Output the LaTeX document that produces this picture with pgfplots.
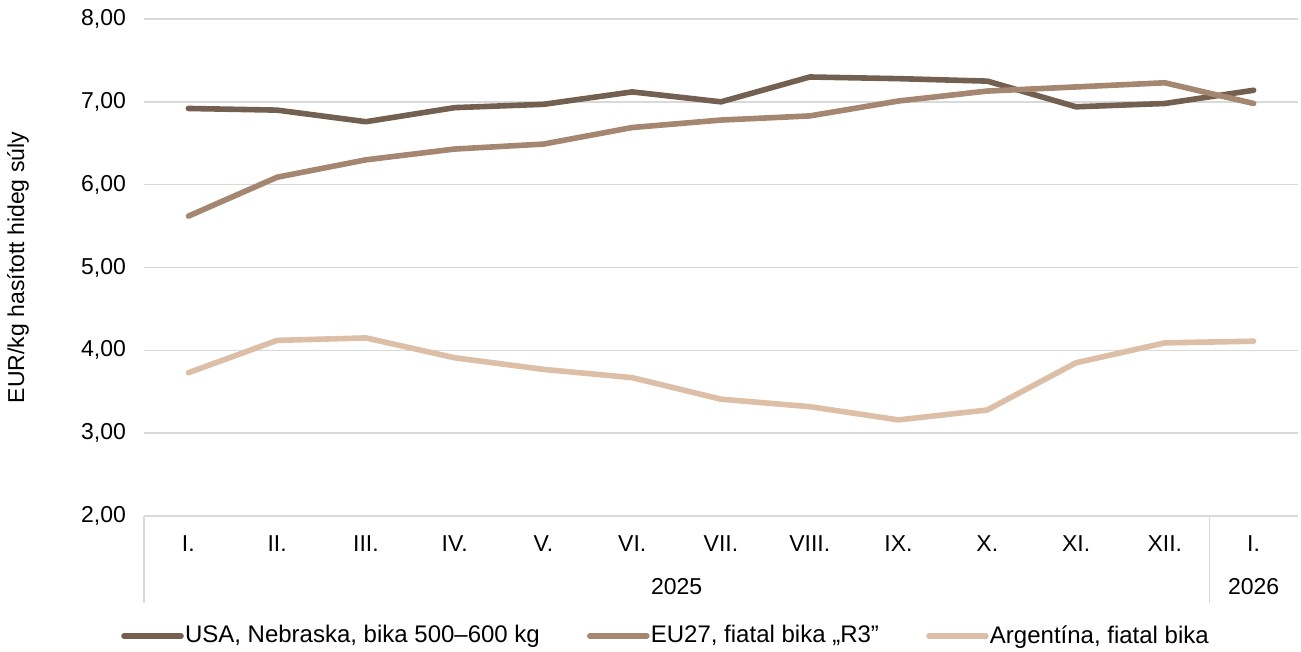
\documentclass[border=0pt]{standalone}
\usepackage{pgfplots}
\pgfplotsset{compat=1.18}
\usepackage{fontspec}
\setmainfont{Liberation Sans}
\definecolor{usa}{HTML}{736050}
\definecolor{eu}{HTML}{A58670}
\definecolor{arg}{HTML}{DDBFA8}
\definecolor{gridc}{HTML}{D9D9D9}
\begin{document}
\fontsize{11.5}{13.8}\selectfont
\begin{tikzpicture}
\path[use as bounding box] (-72pt,-68pt) rectangle (578.5pt,258pt);
\begin{axis}[
  scale only axis,
  width=577pt, height=248.5pt,
  at={(0,0)}, anchor=south west,
  xmin=-0.5, xmax=12.5,
  ymin=2, ymax=8,
  ytick={2,3,4,5,6,7,8},
  xtick={0,...,12},
  xticklabels={I.,II.,III.,IV.,V.,VI.,VII.,VIII.,IX.,X.,XI.,XII.,I.},
  axis y line*=left,
  axis x line*=bottom,
  x axis line style={draw=gridc, line width=0.7pt, -},
  y axis line style={draw=none, -},
  ymajorgrids,
  grid style={draw=gridc, line width=0.7pt},
  major tick length=0pt,
  xtick style={draw=none},
  ytick style={draw=none},
  /pgf/number format/fixed,
  /pgf/number format/fixed zerofill,
  /pgf/number format/precision=2,
  /pgf/number format/use comma,
  /pgf/number format/assume math mode=true,
  xticklabel style={yshift=-6pt},
  yticklabel style={xshift=-5pt},
  ticklabel style={font=\fontsize{11.5}{13.8}\selectfont},
  clip=false,
  legend style={draw=none, fill=none, at={(axis description cs:0.452,0)}, anchor=center, yshift=-60pt,
     legend columns=3, font=\fontsize{12}{14.4}\selectfont,
     /tikz/every even column/.append style={column sep=23pt},
     inner sep=0pt, nodes={inner sep=0.6pt}, cells={anchor=west}},
  legend image code/.code={\draw[#1, line cap=round] (0pt,0pt) -- (28.5pt,0pt);},
  every axis plot/.append style={line width=2.8pt, line cap=round, line join=round},
]
\addplot[color=usa] coordinates {(0,6.92) (1,6.90) (2,6.76) (3,6.93) (4,6.97) (5,7.12) (6,7.00) (7,7.30) (8,7.28) (9,7.25) (10,6.94) (11,6.98) (12,7.14)};
\addlegendentry{USA, Nebraska, bika 500–600 kg}
\addplot[color=eu] coordinates {(0,5.62) (1,6.09) (2,6.30) (3,6.43) (4,6.49) (5,6.69) (6,6.78) (7,6.83) (8,7.01) (9,7.13) (10,7.18) (11,7.23) (12,6.98)};
\addlegendentry{EU27, fiatal bika „R3”}
\addplot[color=arg] coordinates {(0,3.73) (1,4.12) (2,4.15) (3,3.91) (4,3.77) (5,3.67) (6,3.41) (7,3.32) (8,3.16) (9,3.28) (10,3.85) (11,4.09) (12,4.11)};
\addlegendentry{Argentína, fiatal bika}
\draw[gridc, line width=0.7pt] (axis cs:-0.5,2) -- ([yshift=-43.5pt]axis cs:-0.5,2);
\draw[gridc, line width=0.7pt] (axis cs:11.5,2) -- ([yshift=-43.5pt]axis cs:11.5,2);
\node at ([yshift=-35.5pt]axis cs:5.5,2) {2025};
\node at ([yshift=-35.5pt]axis cs:12,2) {2026};
\end{axis}
\node[rotate=90] at (-63pt,124.25pt) {EUR/kg hasított hideg súly};
\end{tikzpicture}
\end{document}
